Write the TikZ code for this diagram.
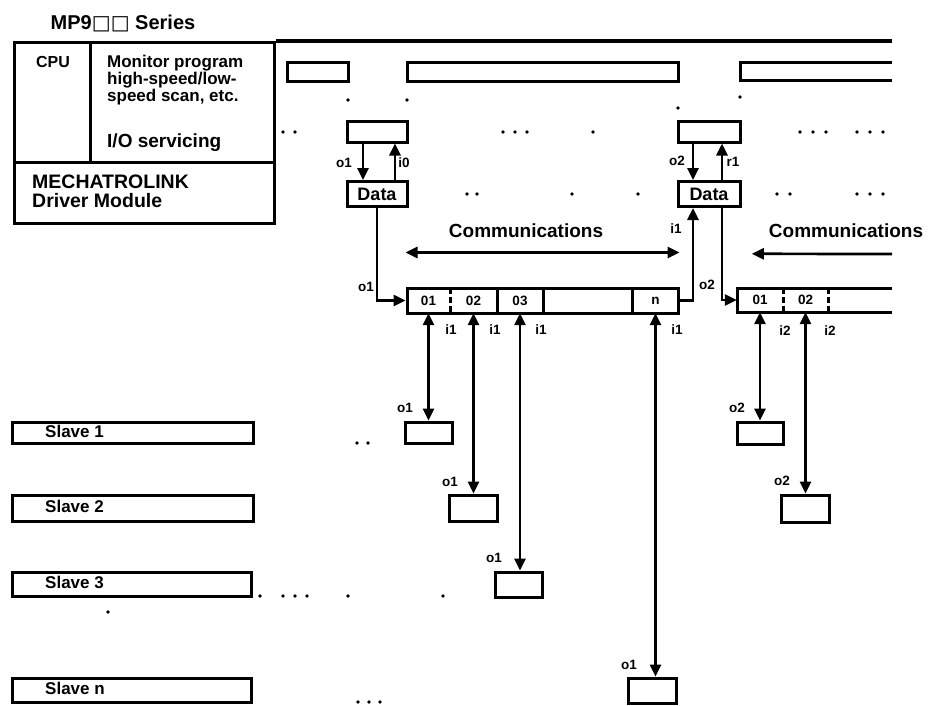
\documentclass[tikz,border=0pt]{standalone}
\usepackage{fontspec}
\setmainfont{Liberation Sans}
\newfontfamily\symfont{DejaVu Sans}
\usetikzlibrary{arrows.meta,calc}
\newcommand{\fs}[2]{\fontsize{#1}{#2}\selectfont\bfseries}
\begin{document}
\begin{tikzpicture}[x=1pt,y=-1pt,
  box/.style={draw, line width=3pt, inner sep=0pt, rectangle},
  slotcell/.style={inner sep=0pt, rectangle, font=\fs{13.5}{13.5}},
  conn/.style={line width=2.7pt, -{Triangle[length=12pt,width=11pt]}},
  biconn/.style={line width=2.7pt, {Triangle[length=12pt,width=11pt]}-{Triangle[length=12pt,width=11pt]}},
  lbl/.style={font=\fs{13.5}{13.5}, inner sep=0pt},
  slavetext/.style={font=\fs{17}{17}, inner sep=0pt, anchor=west},
  partline/.style={line width=3pt},
  speck/.style={fill=black}
]
\useasboundingbox (0,0) rectangle (937,705);

% title
\node[font=\fs{20}{20}] (title) at (123,23) {MP9{\symfont □□} Series};

% main CPU box
\node[box, minimum width=260pt, minimum height=181pt, anchor=north west] (main) at (13,41) {};
\draw[partline] (main.west |- 0,162) -- (main.east |- 0,162);
\draw[partline] (90,41) -- (90,162);
\draw[line width=3.5pt] (main.north east) -- (892,41);
\node[font=\fs{16}{16}] (cpu) at (53,62) {CPU};
\node[font=\fs{17}{15}, align=left, anchor=north west, inner sep=0pt] (mon) at (107,55) {Monitor program\\high-speed/low-\\speed scan, etc.};
\node[font=\fs{19}{19}, anchor=base west, inner sep=0pt] (io) at (107,147) {I/O servicing};
\node[font=\fs{19.5}{19}, align=left, anchor=north west, inner sep=0pt] (mech) at (32,175) {MECHATROLINK\\Driver Module};

% scan boxes
\node[box, minimum width=61pt, minimum height=19pt] (scanA) at (317.5,71.5) {};
\node[box, minimum width=271pt, minimum height=19pt] (scanB) at (542.5,71.5) {};
\coordinate (scanCtop) at (892,62);
\coordinate (scanCbot) at (892,80);
\draw[partline] (scanCtop) -- (740,62) -- (740,80) -- (scanCbot);

% I/O buffers and Data
\node[box, minimum width=60pt, minimum height=21pt] (ioA) at (377,131.5) {};
\node[box, minimum width=62pt, minimum height=21pt] (ioB) at (709,131.5) {};
\node[box, minimum width=60pt, minimum height=25pt, font=\fs{18}{18}] (dataA) at (377,194) {Data};
\node[box, minimum width=62pt, minimum height=25pt, font=\fs{18}{18}] (dataB) at (709,194) {Data};

\draw[conn] ([xshift=-14pt]ioA.south) -- ([xshift=-14pt]dataA.north);
\draw[conn] ([xshift=18pt]dataA.north) -- ([xshift=18pt]ioA.south);
\draw[conn] ([xshift=-16pt]ioB.south) -- ([xshift=-16pt]dataB.north);
\draw[conn] ([xshift=13pt]dataB.north) -- ([xshift=13pt]ioB.south);
\node[lbl] (lo1) at (344,163) {o1};
\node[lbl] (li0) at (404,163) {i0};
\node[lbl] (lo2) at (677,161) {o2};
\node[lbl] (lr1) at (733,162) {r1};

% frame 1
\node[box, minimum width=271pt, minimum height=25pt] (f1) at (542.5,300.5) {};
\node[slotcell, minimum width=43pt, minimum height=25pt] (s01) at (428.5,300.5) {01};
\node[slotcell, minimum width=47pt, minimum height=25pt] (s02) at (473.5,300.5) {02};
\node[slotcell, minimum width=46pt, minimum height=25pt] (s03) at (520,300.5) {03};
\node[slotcell, minimum width=45pt, minimum height=25pt] (sn) at (655.5,300.5) {n};
\draw[partline, dash pattern=on 6pt off 3pt] (s01.north east) -- (s01.south east);
\draw[partline] (s02.north east) -- (s02.south east);
\draw[partline] (s03.north east) -- (s03.south east);
\draw[partline] (sn.north west) -- (sn.south west);

% frame 2
\coordinate (f2top) at (892,288);
\coordinate (f2bot) at (892,312);
\draw[partline] (f2top) -- (737,288) -- (737,312) -- (f2bot);
\node[slotcell, minimum width=46pt, minimum height=24pt] (t01) at (760,300) {01};
\node[slotcell, minimum width=45pt, minimum height=24pt] (t02) at (805.5,300) {02};
\draw[partline, dash pattern=on 6pt off 3pt] (t01.north east) -- (t01.south east);
\draw[partline, dash pattern=on 6pt off 3pt] (t02.north east) -- (t02.south east);

% data paths
\draw[conn] (dataA.south) |- (f1.west);
\draw[conn] (f1.east) -| ([xshift=-16pt]dataB.south);
\draw[conn] ([xshift=13pt]dataB.south) |- (t01.west);
\node[lbl] (lo1b) at (366,287) {o1};
\node[lbl] (li1b) at (676,229) {i1};
\node[lbl] (lo2b) at (707,285) {o2};

% communications
\node[font=\fs{19}{19}] (com1) at (526,231) {Communications};
\node[font=\fs{19}{19}] (com2) at (846,231) {Communications};
\draw[biconn] ([yshift=34pt]f1.north west) -- ([yshift=34pt]f1.north east);
\coordinate (c2start) at (892,254);
\draw[conn] (c2start) -- ([xshift=15pt,yshift=34pt]t01.north west);

% slave bars
\node[box, minimum width=241pt, minimum height=21pt] (sl1) at (132.5,432.5) {};
\node[box, minimum width=241pt, minimum height=26pt] (sl2) at (132.5,508) {};
\node[box, minimum width=239pt, minimum height=24pt] (sl3) at (131.5,584) {};
\node[box, minimum width=239pt, minimum height=24pt] (sln) at (131.5,690) {};
\node[slavetext] (tsl1) at (45,431) {Slave 1};
\node[slavetext] (tsl2) at (45,506) {Slave 2};
\node[slavetext] (tsl3) at (45,582) {Slave 3};
\node[slavetext] (tsln) at (45,688) {Slave n};

% slave buffers
\node[box, minimum width=47pt, minimum height=21pt] (b11) at (428.5,432.5) {};
\node[box, minimum width=48pt, minimum height=26pt] (b12) at (473,508) {};
\node[box, minimum width=47pt, minimum height=25pt] (b13) at (518.5,584.5) {};
\node[box, minimum width=48pt, minimum height=25pt] (b1n) at (652,690.5) {};
\node[box, minimum width=46pt, minimum height=22pt] (b21) at (760,433) {};
\node[box, minimum width=48pt, minimum height=27pt] (b22) at (805,508.5) {};

\draw[biconn] (s01.south) -- (s01.south |- b11.north);
\draw[biconn] (s02.south) -- (s02.south |- b12.north);
\draw[biconn] (s03.south) -- (s03.south |- b13.north);
\draw[biconn] (sn.south) -- (sn.south |- b1n.north);
\draw[biconn] (t01.south) -- (t01.south |- b21.north);
\draw[biconn] (t02.south) -- (t02.south |- b22.north);

\node[lbl] (li11) at (451,330) {i1};
\node[lbl] (li12) at (495,330) {i1};
\node[lbl] (li13) at (541,330) {i1};
\node[lbl] (li1n) at (677,330) {i1};
\node[lbl] (li21) at (785,331) {i2};
\node[lbl] (li22) at (830,331) {i2};
\node[lbl] (lo11) at (405,408) {o1};
\node[lbl] (lo12) at (450,482) {o1};
\node[lbl] (lo13) at (494,558) {o1};
\node[lbl] (lo1n) at (629,665) {o1};
\node[lbl] (lo21) at (737,408) {o2};
\node[lbl] (lo22) at (782,481) {o2};

% scattered dots of the scan
\foreach \p in {(348,100),(407,100),(678,108),(740,97),
  (283,132),(295,132),(503,132),(515,132),(527,132),(593,132),
  (800,132),(813,132),(826,132),(857,132),(870,132),(883,132),
  (467,194),(477,194),(572,194),(638,194),
  (777,194),(790,194),(857,194),(870,194),(883,194),
  (357,443),(368,443),
  (260,596),(283,596),(295,596),(307,596),(348,596),(443,596),
  (108,612),(358,702),(369,702),(380,702)}
  \fill[speck] \p circle[radius=1.8pt];
\end{tikzpicture}
\end{document}
